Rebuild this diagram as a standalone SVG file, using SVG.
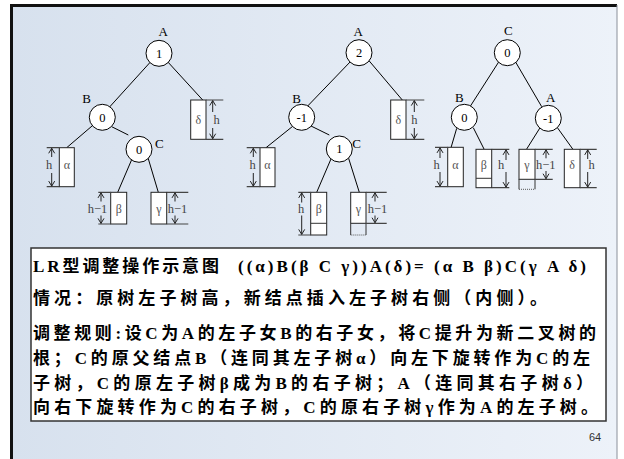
<svg xmlns="http://www.w3.org/2000/svg" width="624" height="459" viewBox="0 0 624 459">
<defs>
<linearGradient id="bg" x1="0" y1="0" x2="1" y2="0">
<stop offset="0" stop-color="#d7e1ee"/>
<stop offset="1" stop-color="#edf2f9"/>
</linearGradient>
<marker id="ah" viewBox="-6 -4 7 8" markerWidth="7" markerHeight="8" refX="0" refY="0" orient="auto" markerUnits="userSpaceOnUse">
<path d="M-5,-3 L0,0 L-5,3" fill="none" stroke="#222" stroke-width="1"/>
</marker>
<style>
.nd{fill:#fff;stroke:#000;stroke-width:1}
.nv{font-family:"Liberation Serif",serif;font-size:12.5px;fill:#000;text-anchor:middle}
.nl{font-family:"Liberation Serif",serif;font-size:13px;fill:#000;text-anchor:middle}
.bx{fill:#fff;stroke:#222;stroke-width:1}
.il{stroke:#333;stroke-width:1;fill:none}
.dt{stroke:#555;stroke-width:1;stroke-dasharray:1,1;fill:none}
.ms{stroke:#444;stroke-width:1.2;fill:none}
.sh{stroke:#222;stroke-width:1;marker-end:url(#ah)}
.gl{font-family:"Liberation Serif",serif;font-size:12px;fill:#555;text-anchor:middle}
.hl{font-family:"Liberation Serif",serif;font-size:12.5px;fill:#444;text-anchor:middle}
.ed{stroke:#000;stroke-width:1}
.tx{font-family:"Liberation Serif","Noto Sans CJK SC",serif;font-size:17px;font-weight:bold;fill:#000}
</style>
</defs>
<rect x="0" y="0" width="624" height="459" fill="#fff"/>
<rect x="11" y="5" width="606" height="454" fill="url(#bg)"/>
<path d="M11.5,459 V5.5 H617" stroke="#111" stroke-width="3" fill="none"/>
<line x1="617" y1="5" x2="617" y2="459" stroke="#8a909a" stroke-width="1"/>

<g id="connectors">
<line class="ed" x1="150.7" y1="61.7" x2="109.3" y2="107.3"/>
<line class="ed" x1="166.7" y1="60.7" x2="202.7" y2="100"/>
<line class="ed" x1="94" y1="124.3" x2="66.7" y2="147.7"/>
<line class="ed" x1="111.7" y1="126.7" x2="128.3" y2="135"/>
<line class="ed" x1="132.7" y1="157.3" x2="117.7" y2="192.3"/>
<line class="ed" x1="147.7" y1="156.7" x2="158.3" y2="192.3"/>

<line class="ed" x1="351" y1="61" x2="307.7" y2="106"/>
<line class="ed" x1="369" y1="60.7" x2="402.3" y2="100"/>
<line class="ed" x1="294.3" y1="125" x2="266" y2="147.7"/>
<line class="ed" x1="311" y1="126" x2="329.3" y2="135"/>
<line class="ed" x1="331.7" y1="157.3" x2="316.7" y2="192.3"/>
<line class="ed" x1="348.3" y1="157.3" x2="359.3" y2="192.3"/>

<line class="ed" x1="499.3" y1="61" x2="470" y2="106.7"/>
<line class="ed" x1="515" y1="61" x2="541.7" y2="106.7"/>
<line class="ed" x1="456.7" y1="128.3" x2="451" y2="147.7"/>
<line class="ed" x1="473.3" y1="127.7" x2="484" y2="149"/>
<line class="ed" x1="540.7" y1="126.7" x2="526.7" y2="149"/>
<line class="ed" x1="556.7" y1="126.7" x2="572.7" y2="149"/>
</g>

<!-- Tree 1 -->
<g id="t1-A">
<circle class="nd" cx="159" cy="53.3" r="13"/>
<text class="nv" x="159" y="57.5">1</text>
<text class="nl" x="163.3" y="36">A</text>
</g>
<g id="t1-B">
<circle class="nd" cx="102.3" cy="117.3" r="13"/>
<text class="nv" x="102.3" y="121.5">0</text>
<text class="nl" x="86.7" y="102.5">B</text>
</g>
<g id="t1-C">
<circle class="nd" cx="139" cy="149.3" r="13"/>
<text class="nv" x="139" y="153.5">0</text>
<text class="nl" x="159.3" y="147.8">C</text>
</g>
<g id="t1-delta">
<rect class="bx" x="190.7" y="100" width="15.3" height="39.3"/>
<path class="ms" d="M206,100 H223.3 M206,139.3 H223.3"/>
<line class="sh" x1="212.7" y1="112" x2="212.7" y2="100.6"/>
<line class="sh" x1="212.7" y1="128" x2="212.7" y2="138.7"/>
<text class="gl" x="198.3" y="124">δ</text>
<text class="hl" x="216.5" y="124">h</text>
</g>
<g id="t1-alpha">
<rect class="bx" x="59.3" y="147.7" width="15" height="39"/>
<path class="ms" d="M46.7,147.7 H59.3 M46.7,186.7 H59.3"/>
<line class="sh" x1="51.7" y1="157" x2="51.7" y2="148.3"/>
<line class="sh" x1="51.7" y1="173" x2="51.7" y2="186.1"/>
<text class="gl" x="66.8" y="169">α</text>
<text class="hl" x="49" y="169">h</text>
</g>
<g id="t1-beta">
<rect class="bx" x="110.7" y="192.3" width="16" height="31.7"/>
<path class="ms" d="M98.3,192.3 H110.7 M98.3,224 H110.7"/>
<line class="sh" x1="101" y1="201.5" x2="101" y2="192.9"/>
<line class="sh" x1="101" y1="215.5" x2="101" y2="223.4"/>
<text class="gl" x="118.7" y="213">β</text>
<text class="hl" x="97.5" y="213">h−1</text>
</g>
<g id="t1-gamma">
<rect class="bx" x="151" y="192.3" width="15.7" height="31.7"/>
<path class="ms" d="M166.7,192.3 H188.3 M166.7,224 H188.3"/>
<line class="sh" x1="175" y1="201.5" x2="175" y2="192.9"/>
<line class="sh" x1="175" y1="215.5" x2="175" y2="223.4"/>
<text class="gl" x="158.8" y="213">γ</text>
<text class="hl" x="177.5" y="213">h−1</text>
</g>

<!-- Tree 2 -->
<g id="t2-A">
<circle class="nd" cx="359" cy="52.7" r="13"/>
<text class="nv" x="359" y="57">2</text>
<text class="nl" x="358.3" y="36">A</text>
</g>
<g id="t2-B">
<circle class="nd" cx="301.7" cy="117.3" r="13"/>
<text class="nv" x="301.7" y="121.5">-1</text>
<text class="nl" x="296.7" y="102.8">B</text>
</g>
<g id="t2-C">
<circle class="nd" cx="339.3" cy="149" r="13"/>
<text class="nv" x="339.3" y="153.2">1</text>
<text class="nl" x="356.7" y="147.8">C</text>
</g>
<g id="t2-delta">
<rect class="bx" x="390.7" y="100" width="15.3" height="39.3"/>
<path class="ms" d="M406,100 H424.3 M406,139.3 H424.3"/>
<line class="sh" x1="414.3" y1="112" x2="414.3" y2="100.6"/>
<line class="sh" x1="414.3" y1="128" x2="414.3" y2="138.7"/>
<text class="gl" x="398.3" y="124">δ</text>
<text class="hl" x="414.3" y="124">h</text>
</g>
<g id="t2-alpha">
<rect class="bx" x="260" y="147.7" width="15" height="39"/>
<path class="ms" d="M246.7,147.7 H260 M246.7,186.7 H260"/>
<line class="sh" x1="253.3" y1="157" x2="253.3" y2="148.3"/>
<line class="sh" x1="253.3" y1="173" x2="253.3" y2="186.1"/>
<text class="gl" x="267.5" y="169">α</text>
<text class="hl" x="252.7" y="169">h</text>
</g>
<g id="t2-beta">
<rect class="bx" x="310.7" y="192.3" width="16" height="42.7"/>
<line class="il" x1="310.7" y1="223.3" x2="326.7" y2="223.3"/>
<path class="ms" d="M298.3,192.3 H310.7 M298.3,235 H310.7"/>
<line class="sh" x1="301.7" y1="202.5" x2="301.7" y2="192.9"/>
<line class="sh" x1="301.7" y1="215.5" x2="301.7" y2="234.4"/>
<text class="gl" x="318.7" y="213">β</text>
<text class="hl" x="301" y="213">h</text>
</g>
<g id="t2-gamma">
<rect class="bx" x="350.7" y="192.3" width="15.3" height="31"/>
<path class="il" d="M350.7,223.3 V235 M366,223.3 V235"/>
<line class="dt" x1="350.7" y1="235" x2="366" y2="235"/>
<path class="ms" d="M366,192.3 H386.7 M366,223.3 H386.7"/>
<line class="sh" x1="375" y1="201.5" x2="375" y2="192.9"/>
<line class="sh" x1="375" y1="215.5" x2="375" y2="222.7"/>
<text class="gl" x="358.3" y="213">γ</text>
<text class="hl" x="377.5" y="213">h−1</text>
</g>

<!-- Tree 3 -->
<g id="t3-C">
<circle class="nd" cx="507.3" cy="52.7" r="13"/>
<text class="nv" x="507.3" y="57">0</text>
<text class="nl" x="508.3" y="35">C</text>
</g>
<g id="t3-B">
<circle class="nd" cx="464.3" cy="117.3" r="13"/>
<text class="nv" x="464.3" y="121.5">0</text>
<text class="nl" x="459.3" y="102">B</text>
</g>
<g id="t3-A">
<circle class="nd" cx="548.3" cy="118.3" r="13"/>
<text class="nv" x="548.3" y="122.5">-1</text>
<text class="nl" x="550.7" y="101.6">A</text>
</g>
<g id="t3-alpha">
<rect class="bx" x="447.7" y="147.3" width="15.6" height="39.4"/>
<path class="ms" d="M435,147.3 H447.7 M435,186.7 H447.7"/>
<line class="sh" x1="440" y1="158" x2="440" y2="147.9"/>
<line class="sh" x1="440" y1="172" x2="440" y2="186.1"/>
<text class="gl" x="455.5" y="169">α</text>
<text class="hl" x="436.5" y="169">h</text>
</g>
<g id="t3-beta">
<rect class="bx" x="476" y="149.3" width="15.7" height="38.4"/>
<line class="il" x1="476" y1="178.3" x2="491.7" y2="178.3"/>
<path class="ms" d="M491.7,149.3 H509.3 M491.7,187.7 H509.3"/>
<line class="sh" x1="506" y1="160" x2="506" y2="149.9"/>
<line class="sh" x1="506" y1="172" x2="506" y2="187.1"/>
<text class="gl" x="483.8" y="169">β</text>
<text class="hl" x="501" y="169">h</text>
</g>
<g id="t3-gamma">
<rect class="bx" x="519" y="149.3" width="16" height="30"/>
<path class="il" d="M519,179.3 V189.3 M535,179.3 V189.3"/>
<line class="dt" x1="519" y1="189.3" x2="535" y2="189.3"/>
<path class="ms" d="M535,149.3 H552.7 M535,179.3 H552.7"/>
<line class="sh" x1="546" y1="158.3" x2="546" y2="149.9"/>
<line class="sh" x1="546" y1="171" x2="546" y2="178.7"/>
<text class="gl" x="527" y="169">γ</text>
<text class="hl" x="545.8" y="169">h−1</text>
</g>
<g id="t3-delta">
<rect class="bx" x="564.3" y="149.3" width="15.7" height="38.4"/>
<path class="ms" d="M580,149.3 H596.7 M580,187.7 H596.7"/>
<line class="sh" x1="587.7" y1="159" x2="587.7" y2="149.9"/>
<line class="sh" x1="587.7" y1="172" x2="587.7" y2="187.1"/>
<text class="gl" x="572" y="169">δ</text>
<text class="hl" x="591.7" y="169">h</text>
</g>

<g id="textbox">
<rect x="31" y="248" width="575" height="173" fill="#fff" stroke="#333" stroke-width="1.5"/>
<text class="tx" x="33" y="272" textLength="186" lengthAdjust="spacing">LR型调整操作示意图</text>
<text class="tx" x="238" y="272" textLength="348" lengthAdjust="spacing">((α)B(β C γ))A(δ)= (α B β)C(γ A δ)</text>
<text class="tx" x="33" y="304" textLength="514" lengthAdjust="spacing">情况：原树左子树高，新结点插入左子树右侧（内侧）。</text>
<text class="tx" x="33" y="339" textLength="563" lengthAdjust="spacing">调整规则:设C为A的左子女B的右子女，将C提升为新二叉树的</text>
<text class="tx" x="33" y="364" textLength="557" lengthAdjust="spacing">根；C的原父结点B（连同其左子树α）向左下旋转作为C的左</text>
<text class="tx" x="33" y="389" textLength="560" lengthAdjust="spacing">子树，C的原左子树β成为B的右子树；A（连同其右子树δ）</text>
<text class="tx" x="33" y="413" textLength="565" lengthAdjust="spacing">向右下旋转作为C的右子树，C的原右子树γ作为A的左子树。</text>
</g>
<text x="595" y="441" font-family="Liberation Sans, sans-serif" font-size="11" fill="#333" text-anchor="middle">64</text>
</svg>
